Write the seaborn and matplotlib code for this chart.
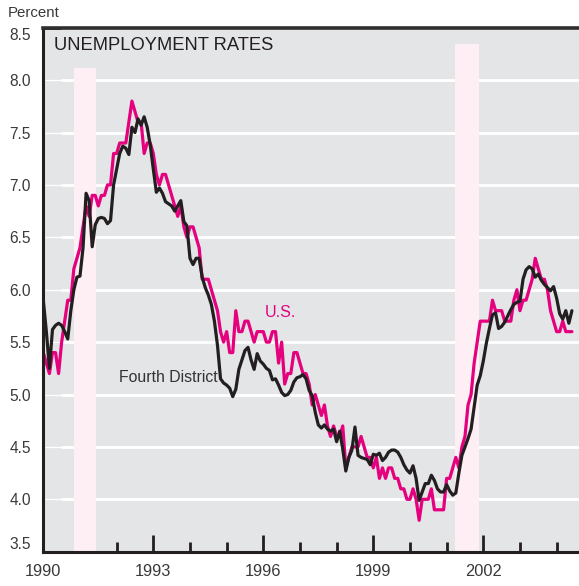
import numpy as np
import pandas as pd
import matplotlib
matplotlib.use("Agg")
import matplotlib.pyplot as plt
import seaborn as sns

# ---------------- data ----------------
start_year = 1990
# U.S. monthly unemployment rate, Jan 1990 - Jun 2004
us_rate = [
    5.4, 5.3, 5.2, 5.4, 5.4, 5.2, 5.5, 5.7, 5.9, 5.9, 6.2, 6.3,   # 1990
    6.4, 6.6, 6.8, 6.7, 6.9, 6.9, 6.8, 6.9, 6.9, 7.0, 7.0, 7.3,   # 1991
    7.3, 7.4, 7.4, 7.4, 7.6, 7.8, 7.7, 7.6, 7.6, 7.3, 7.4, 7.4,   # 1992
    7.3, 7.1, 7.0, 7.1, 7.1, 7.0, 6.9, 6.8, 6.7, 6.8, 6.6, 6.5,   # 1993
    6.6, 6.6, 6.5, 6.4, 6.1, 6.1, 6.1, 6.0, 5.9, 5.8, 5.6, 5.5,   # 1994
    5.6, 5.4, 5.4, 5.8, 5.6, 5.6, 5.7, 5.7, 5.6, 5.5, 5.6, 5.6,   # 1995
    5.6, 5.5, 5.5, 5.6, 5.6, 5.3, 5.5, 5.1, 5.2, 5.2, 5.4, 5.4,   # 1996
    5.3, 5.2, 5.2, 5.1, 4.9, 5.0, 4.9, 4.8, 4.9, 4.7, 4.6, 4.7,   # 1997
    4.6, 4.6, 4.7, 4.3, 4.4, 4.5, 4.5, 4.5, 4.6, 4.5, 4.4, 4.4,   # 1998
    4.3, 4.4, 4.2, 4.3, 4.2, 4.3, 4.3, 4.2, 4.2, 4.1, 4.1, 4.0,   # 1999
    4.0, 4.1, 4.0, 3.8, 4.0, 4.0, 4.0, 4.1, 3.9, 3.9, 3.9, 3.9,   # 2000
    4.2, 4.2, 4.3, 4.4, 4.3, 4.5, 4.6, 4.9, 5.0, 5.3, 5.5, 5.7,   # 2001
    5.7, 5.7, 5.7, 5.9, 5.8, 5.8, 5.8, 5.7, 5.7, 5.7, 5.9, 6.0,   # 2002
    5.8, 5.9, 5.9, 6.0, 6.1, 6.3, 6.2, 6.1, 6.1, 6.0, 5.8, 5.7,   # 2003
    5.6, 5.6, 5.7, 5.6, 5.6, 5.6,                                 # 2004
]
# Fourth District monthly unemployment rate, Jan 1990 - Jun 2004
fourth_district_rate = [
    5.90, 5.60, 5.25, 5.62, 5.66, 5.68, 5.66, 5.60, 5.53, 5.80, 6.00, 6.12,  # 1990
    6.13, 6.40, 6.92, 6.85, 6.41, 6.62, 6.68, 6.69, 6.68, 6.63, 6.66, 7.00,  # 1991
    7.15, 7.30, 7.37, 7.35, 7.29, 7.55, 7.50, 7.63, 7.57, 7.65, 7.55, 7.38,  # 1992
    7.15, 6.93, 6.97, 6.92, 6.84, 6.82, 6.80, 6.75, 6.80, 6.85, 6.65, 6.61,  # 1993
    6.30, 6.24, 6.30, 6.30, 6.12, 6.02, 5.95, 5.86, 5.70, 5.47, 5.15, 5.11,  # 1994
    5.09, 5.06, 4.98, 5.05, 5.24, 5.33, 5.42, 5.45, 5.33, 5.24, 5.39, 5.32,  # 1995
    5.29, 5.25, 5.23, 5.14, 5.15, 5.09, 5.02, 4.99, 5.00, 5.04, 5.12, 5.16,  # 1996
    5.17, 5.19, 5.15, 5.04, 4.99, 4.83, 4.71, 4.68, 4.71, 4.67, 4.65, 4.67,  # 1997
    4.55, 4.65, 4.48, 4.27, 4.40, 4.47, 4.69, 4.42, 4.40, 4.39, 4.38, 4.33,  # 1998
    4.43, 4.42, 4.44, 4.37, 4.40, 4.45, 4.47, 4.47, 4.45, 4.40, 4.33, 4.28,  # 1999
    4.25, 4.32, 4.20, 3.99, 4.07, 4.15, 4.15, 4.23, 4.18, 4.10, 4.07, 4.07,  # 2000
    4.14, 4.08, 4.04, 4.06, 4.25, 4.42, 4.50, 4.58, 4.67, 4.88, 5.09, 5.18,  # 2001
    5.32, 5.49, 5.63, 5.76, 5.78, 5.63, 5.65, 5.69, 5.75, 5.81, 5.86, 5.88,  # 2002
    5.89, 6.10, 6.19, 6.22, 6.20, 6.12, 6.15, 6.09, 6.05, 6.02, 5.99, 6.03,  # 2003
    5.92, 5.77, 5.72, 5.80, 5.68, 5.80,                                      # 2004
]
series_names = ["U.S.", "Fourth District"]
series_colors = ["#e5007e", "#231f20"]

# recessions (shaded bars)
recession_start = [1990.84, 2001.23]
recession_end = [1991.44, 2001.88]
recession_top = [8.12, 8.34]

y_ticks = [3.5, 4.0, 4.5, 5.0, 5.5, 6.0, 6.5, 7.0, 7.5, 8.0, 8.5]
y_tick_labels = ["3.5", "4.0", "4.5", "5.0", "5.5", "6.0", "6.5", "7.0", "7.5", "8.0", "8.5"]
x_major = [1990, 1993, 1996, 1999, 2002]
x_major_labels = ["1990", "1993", "1996", "1999", "2002"]
x_minor = [1991, 1992, 1994, 1995, 1997, 1998, 2000, 2001, 2003, 2004]

# ---------------- frame ----------------
months = np.arange(len(us_rate))
dates = start_year + months / 12.0
df = pd.concat([
    pd.DataFrame({"year": dates, "rate": us_rate, "series": series_names[0]}),
    pd.DataFrame({"year": dates, "rate": fourth_district_rate, "series": series_names[1]}),
], ignore_index=True)

sns.set_style("white")
plt.rcParams["font.family"] = ["Liberation Sans", "DejaVu Sans"]

fig = plt.figure(figsize=(5.79, 5.86), dpi=100)
ax = fig.add_axes([0.0748, 0.0585, 0.9252, 0.8942])
ax.set_facecolor("#e4e5e7")

# white gridlines (below recession shading)
for yv in y_ticks[1:-1]:
    ax.axhline(yv, color="white", lw=2.0, zorder=0.6)

# recession shading
for s, e, t in zip(recession_start, recession_end, recession_top):
    ax.fill_between([s, e], [y_ticks[0], y_ticks[0]], [t, t], color="#fdeff4", lw=0, zorder=0.8)

sns.lineplot(data=df, x="year", y="rate", hue="series", hue_order=series_names,
             palette=series_colors, linewidth=2.3, legend=False, ax=ax, zorder=2)

ax.set_xlim(1990, 2004.61)
ax.set_ylim(3.5, 8.5)
ax.set_xlabel("")
ax.set_ylabel("")

ax.set_yticks(y_ticks)
ax.set_yticklabels(y_tick_labels)
ax.set_xticks(x_major)
ax.set_xticklabels(x_major_labels)
ax.set_xticks(x_minor, minor=True)

tick_col = "#231f20"
lab_col = "#3a3a3a"
ax.tick_params(axis="y", which="major", direction="in", length=13, width=2.0,
               color=tick_col, pad=9, labelsize=11.2, labelcolor=lab_col, left=True)
ax.tick_params(axis="x", which="major", direction="in", length=12.5, width=2.0,
               color=tick_col, pad=9, labelsize=11.8, labelcolor=lab_col, bottom=True)
ax.tick_params(axis="x", which="minor", direction="in", length=7, width=2.0,
               color=tick_col, bottom=True)

ylabels = ax.get_yticklabels()
ylabels[-1].set_va("top")
ylabels[0].set_va("bottom")

for side in ["left", "bottom"]:
    ax.spines[side].set_color(tick_col)
    ax.spines[side].set_linewidth(2.2)
ax.spines["top"].set_color("#2e2e2e")
ax.spines["top"].set_linewidth(2.6)
ax.spines["right"].set_visible(False)

# texts
ax.text(0.02, 0.957, "UNEMPLOYMENT RATES", transform=ax.transAxes, fontsize=13.2,
        va="baseline", ha="left", color="#231f20")
ax.text(0.414, 0.447, "U.S.", transform=ax.transAxes, fontsize=11.6,
        va="baseline", ha="left", color=series_colors[0])
ax.text(0.141, 0.324, "Fourth District", transform=ax.transAxes, fontsize=11.4,
        va="baseline", ha="left", color="#333333")
fig.text(8 / 579, 1 - 17.3 / 586, "Percent", fontsize=10.8, va="baseline", ha="left", color=lab_col)

fig.savefig("out.png", dpi=100)
